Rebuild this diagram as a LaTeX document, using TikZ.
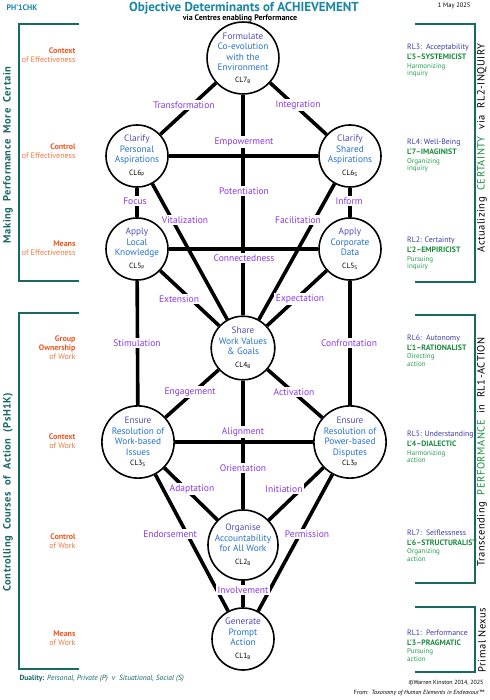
\documentclass[tikz,border=0pt]{standalone}
\usepackage{fontspec}
\setmainfont{PT Sans}
\newfontfamily\sidefont{PT Sans}[LetterSpace=5]
\usepackage{tikz}
\usetikzlibrary{positioning}

\definecolor{tealdark}{RGB}{24,104,100}
\definecolor{titleteal}{RGB}{25,135,165}
\definecolor{verbblue}{RGB}{80,78,185}
\definecolor{restblue}{RGB}{35,115,205}
\definecolor{routeviolet}{RGB}{140,55,235}
\definecolor{orangedark}{RGB}{240,88,35}
\definecolor{orangelight}{RGB}{245,118,60}
\definecolor{rlblue}{RGB}{60,60,165}
\definecolor{levelgreen}{RGB}{25,140,60}
\definecolor{modegreen}{RGB}{35,160,80}

\newcommand\verbword[1]{\textcolor{verbblue}{#1}}
\newcommand\cltag[2]{{\fontsize{7.5}{8}\selectfont\color{black}#1\textsubscript{#2}}}

\begin{document}
\begin{tikzpicture}[x=1pt,y=-1pt,
        centre/.style={
          draw,
          circle,
          line width=1.6pt,
          fill=white,
          minimum size=62pt,
          inner sep=0pt,
          align=center,
          text=restblue,
          font=\fontsize{9.3}{10.5}\selectfont
        },
        link/.style={line width=3.6pt},
        route/.style={
          fill=white,
          inner sep=1.5pt,
          text=routeviolet,
          font=\fontsize{9.5}{10}\selectfont
        },
        bracket/.style={draw=tealdark,line width=1.8pt},
        effarea/.style={
          anchor=east,
          align=right,
          text=orangedark,
          font=\fontsize{8}{9}\selectfont
        },
        rlhead/.style={
          anchor=west,
          align=left,
          inner sep=0pt,
          font=\fontsize{7.8}{10}\selectfont
        },
        rlmode/.style={
          anchor=north west,
          align=left,
          inner sep=0pt,
          text=modegreen,
          font=\fontsize{7}{7.5}\selectfont
        },
        sideleft/.style={
          rotate=90,
          text=tealdark,
          font=\sidefont\bfseries\fontsize{10.5}{12}\selectfont
        },
        sideright/.style={
          rotate=90,
          inner sep=1pt,
          font=\sidefont\fontsize{10.5}{12}\selectfont
        }
        ]
        \useasboundingbox (0,0) rectangle (489,700);
        \fill[white] (0,0) rectangle (489,700);

        % header
        \node[anchor=west,text=titleteal,font=\bfseries\fontsize{8}{9}\selectfont] 
          (code) at (3,8) {PH'1CHK};
        \node[text=titleteal,font=\bfseries\fontsize{13}{15}\selectfont] 
          (title) at (244,8) {Objective Determinants of ACHIEVEMENT};
        \node[font=\bfseries\fontsize{8}{9}\selectfont] 
          (sub) at (240,18) {via Centres enabling Performance};
        \node[anchor=east,font=\fontsize{6.5}{7}\selectfont] 
          (date) at (474,6) {1 May 2025};

        % centres
        \node[centre] (cl7) at (243,58) 
          {\verbword{Formulate}\\Co-evolution\\with the\\Environment\\[1pt]\cltag{CL7}{B}};
        \node[centre] (cl6p) at (137,156) 
          {\verbword{Clarify}\\Personal\\Aspirations\\[2pt]\cltag{CL6}{P}};
        \node[centre] (cl6s) at (350,156) 
          {\verbword{Clarify}\\Shared\\Aspirations\\[2pt]\cltag{CL6}{S}};
        \node[centre] (cl5p) at (137,249) 
          {\verbword{Apply}\\Local\\Knowledge\\[2pt]\cltag{CL5}{P}};
        \node[centre] (cl5s) at (350,249) 
          {\verbword{Apply}\\Corporate\\Data\\[2pt]\cltag{CL5}{S}};
        \node[centre] (cl4b) at (243,348) 
          {\verbword{Share}\\Work Values\\\& Goals\\[2pt]\cltag{CL4}{B}};
        \node[centre] (cl3s) at (138,442) 
          {\verbword{Ensure}\\Resolution of\\Work-based\\Issues\\[0pt]\cltag{CL3}{S}};
        \node[centre] (cl3p) at (350,442) 
          {\verbword{Ensure}\\Resolution of\\Power-based\\Disputes\\[0pt]\cltag{CL3}{P}};
        \node[centre] (cl2b) at (243,545) 
          {\verbword{Organise}\\Accountability\\for All Work\\[2pt]\cltag{CL2}{B}};
        \node[centre] (cl1b) at (243,639) 
          {\verbword{Generate}\\Prompt\\Action\\[2pt]\cltag{CL1}{B}};

        % paths
        \draw[link] (cl7) -- (cl6p);
        \draw[link] (cl7) -- (cl6s);
        \draw[link] (cl7) -- (cl4b);
        \draw[link] (cl6p) -- (cl6s);
        \draw[link] (cl6p) -- (cl5p);
        \draw[link] (cl6s) -- (cl5s);
        \draw[link] (cl6p) -- (cl4b);
        \draw[link] (cl6s) -- (cl4b);
        \draw[link] (cl5p) -- (cl5s);
        \draw[link] (cl5p) -- (cl4b);
        \draw[link] (cl5s) -- (cl4b);
        \draw[link] (cl5p) -- (cl3s);
        \draw[link] (cl5s) -- (cl3p);
        \draw[link] (cl4b) -- (cl3s);
        \draw[link] (cl4b) -- (cl3p);
        \draw[link] (cl3s) -- (cl3p);
        \draw[link] (cl4b) -- (cl2b);
        \draw[link] (cl3s) -- (cl2b);
        \draw[link] (cl3p) -- (cl2b);
        \draw[link] (cl3s) -- (cl1b);
        \draw[link] (cl3p) -- (cl1b);
        \draw[link] (cl2b) -- (cl1b);

        % path names
        \node[route] (transf) at (184,105) {Transformation};
        \node[route] (integr) at (298,105) {Integration};
        \node[route] (empow) at (244,142) {Empowerment};
        \node[route] (potent) at (244,191) {Potentiation};
        \node[route] (focus) at (135,201) {Focus};
        \node[route] (inform) at (349,201) {Inform};
        \node[route] (vital) at (185,220) {Vitalization};
        \node[route] (facil) at (298,220) {Facilitation};
        \node[route] (connect) at (244,258) {Connectedness};
        \node[route] (extens) at (179,299) {Extension};
        \node[route] (expect) at (300,299) {Expectation};
        \node[route] (stimul) at (137,343) {Stimulation};
        \node[route] (confr) at (349,343) {Confrontation};
        \node[route] (engag) at (190,392) {Engagement};
        \node[route] (activ) at (294,392) {Activation};
        \node[route] (align) at (243,432) {Alignment};
        \node[route] (orient) at (243,468) {Orientation};
        \node[route] (adapt) at (192,489) {Adaptation};
        \node[route] (initi) at (284,489) {Initiation};
        \node[route] (endors) at (170,534) {Endorsement};
        \node[route] (permis) at (307,534) {Permission};
        \node[route] (involv) at (243,590) {Involvement};

        % left brackets
        \draw[bracket] (79,24) -- (19,24) -- (19,281) -- (79,281);
        \draw[bracket] (79,313) -- (19,313) -- (19,669) -- (79,669);
        \node[sideleft] (certain) at (8,155) 
          {Making\ \ Performance\ \ More\ \ Certain};
        \node[sideleft] (courses) at (8,492) 
          {Controlling\ \ Courses\ \ of\ \ Action\ \ (PsH1K)};

        \node[effarea] (ctxeff) at (79,55.5) 
          {\textbf{Context}\\\textcolor{orangelight}{of Effectiveness}};
        \node[effarea] (ctleff) at (79,151.5) 
          {\textbf{Control}\\\textcolor{orangelight}{of Effectiveness}};
        \node[effarea] (mnseff) at (79,248) 
          {\textbf{Means}\\\textcolor{orangelight}{of Effectiveness}};
        \node[effarea] (grpwork) at (79,348) 
          {\textbf{Group}\\\textbf{Ownership}\\\textcolor{orangelight}{of Work}};
        \node[effarea] (ctxwork) at (79,441.5) 
          {\textbf{Context}\\\textcolor{orangelight}{of Work}};
        \node[effarea] (ctlwork) at (79,541.5) 
          {\textbf{Control}\\\textcolor{orangelight}{of Work}};
        \node[effarea] (mnswork) at (79,638.5) 
          {\textbf{Means}\\\textcolor{orangelight}{of Work}};

        % right brackets
        \draw[bracket] (415,24) -- (475,24) -- (475,282) -- (415,282);
        \draw[bracket] (415,315) -- (475,315) -- (475,583) -- (415,583);
        \draw[bracket] (415,607) -- (475,607) -- (475,672) -- (415,672);
        \node[sideright] (inquiry) at (482,148) 
          {Actualizing\ \ \textcolor{levelgreen}{CERTAINTY}\ \ via\ \ RL2-INQUIRY};
        \node[sideright] (action) at (482,452) 
          {Transcending\ \ \textcolor{levelgreen}{PERFORMANCE}\ \ in\ \ RL1-ACTION};
        \node[sideright] (nexus) at (482,640) {Primal Nexus};

        \node[rlhead] (rl3) at (407,52) 
          {\textcolor{rlblue}{RL3:\ \ Acceptability}\\\textcolor{levelgreen}{\bfseries L'5--SYSTEMICIST}};
        \node[rlmode,below=3pt of rl3.south west,anchor=north west] (rl3m) {Harmonizing\\inquiry};
        \node[rlhead] (rl4) at (407,147) 
          {\textcolor{rlblue}{RL4:\ Well-Being}\\\textcolor{levelgreen}{\bfseries L'7--IMAGINIST}};
        \node[rlmode,below=3pt of rl4.south west,anchor=north west] (rl4m) {Organizing\\inquiry};
        \node[rlhead] (rl2) at (407,245) 
          {\textcolor{rlblue}{RL2: Certainty}\\\textcolor{levelgreen}{\bfseries L'2--EMPIRICIST}};
        \node[rlmode,below=3pt of rl2.south west,anchor=north west] (rl2m) {Pursuing\\inquiry};
        \node[rlhead] (rl6) at (407,342.5) 
          {\textcolor{rlblue}{RL6:\ \ Autonomy}\\\textcolor{levelgreen}{\bfseries L'1--RATIONALIST}};
        \node[rlmode,below=3pt of rl6.south west,anchor=north west] (rl6m) {Directing\\action};
        \node[rlhead] (rl5) at (407,439) 
          {\textcolor{rlblue}{RL5: Understanding}\\\textcolor{levelgreen}{\bfseries L'4--DIALECTIC}};
        \node[rlmode,below=3pt of rl5.south west,anchor=north west] (rl5m) {Harmonizing\\action};
        \node[rlhead] (rl7) at (407,537.5) 
          {\textcolor{rlblue}{RL7:\ \ Selflessness}\\\textcolor{levelgreen}{\bfseries L'6--STRUCTURALIST}};
        \node[rlmode,below=3pt of rl7.south west,anchor=north west] (rl7m) {Organizing\\action};
        \node[rlhead] (rl1) at (407,637.5) 
          {\textcolor{rlblue}{RL1:\ \ Performance}\\\textcolor{levelgreen}{\bfseries L'3--PRAGMATIC}};
        \node[rlmode,below=3pt of rl1.south west,anchor=north west] (rl1m) {Pursuing\\action};

        % footer
        \node[anchor=west,text=tealdark,font=\fontsize{7.5}{9}\selectfont] (duality) at (16,679) 
          {\textbf{Duality:} \textit{Personal, Private (P)\ \ v\ \ Situational, Social (S)}};
        \node[anchor=east,font=\fontsize{6}{7}\selectfont] (copyr) at (487,683) 
          {©Warren Kinston 2014, 2025};
        \node[anchor=east,font=\fontsize{6}{7}\selectfont] (source) at (488,693) 
          {From:\ \ \textit{Taxonomy of Human Elements in Endeavour}™};
    \end{tikzpicture}
\end{document}
